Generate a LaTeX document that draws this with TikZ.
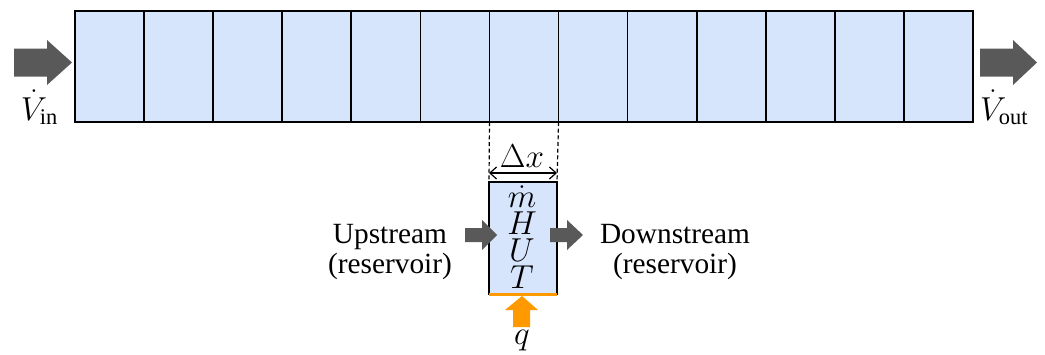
\documentclass[tikz,border=0pt]{standalone}
\usepackage{fontspec}
\setmainfont{Liberation Serif}
\usetikzlibrary{arrows.meta}
\definecolor{cellfill}{RGB}{214,228,252}
\definecolor{arrowgray}{RGB}{89,89,89}
\definecolor{heatorange}{RGB}{255,153,0}
\begin{document}
\begin{tikzpicture}[x=0.75pt,y=-0.75pt,
  font=\fontsize{22}{22.5}\selectfont,
  cell/.style={draw=black, line width=1.3pt, fill=cellfill, minimum width=51.81pt,
    minimum height=83.25pt, inner sep=0pt, outer sep=0pt, anchor=north west},
  ctrlvol/.style={draw=black, line width=1.3pt, fill=cellfill, minimum width=51pt,
    minimum height=84pt, inner sep=0pt, outer sep=0pt, anchor=north west},
  blockarrow/.style={fill=arrowgray},
  heatarrow/.style={fill=heatorange},
  lbl/.style={inner sep=0pt, outer sep=0pt},
  mlbl/.style={inner sep=0pt, outer sep=0pt, font=\fontsize{24}{20.25}\selectfont},
  guide/.style={draw=black, line width=0.9pt, dash pattern=on 3pt off 2pt},
  dim/.style={draw=black, line width=0.9pt, {Straight Barb[length=5pt,width=9pt]}-{Straight Barb[length=5pt,width=9pt]}}]
\useasboundingbox (0,0) rectangle (1045,354);
% pipe cells
\foreach \i in {0,...,12} {
  \node[cell] (c\i) at ({75+\i*69.077},11) {};
}
% inlet / outlet arrows
\fill[blockarrow] (14,48.5) -- (47,48.5) -- (47,40) -- (72,62.5) -- (47,85) -- (47,76.5) -- (14,76.5) -- cycle;
\fill[blockarrow] (980,48.5) -- (1013,48.5) -- (1013,40) -- (1037,62.5) -- (1013,85) -- (1013,76.5) -- (980,76.5) -- cycle;
\node[mlbl, anchor=base west] (vin) at (21,120) {$\dot V_{\mathrm{in}}$};
\node[mlbl, anchor=base west] (vout) at (980,120) {$\dot V_{\mathrm{out}}$};
% control volume
\node[ctrlvol] (box) at (489,182) {};
\draw[guide] (c6.south west) -- (box.north west);
\draw[guide] (c6.south east) -- (box.north east);
\draw[dim] ([yshift=6.75pt]box.north west) -- ([yshift=6.75pt]box.north east);
\node[mlbl, anchor=base] (dx) at (522,167) {$\Delta x$};
\node[mlbl, align=center, anchor=base] (state) at (522,288) {$\dot m$\\$H$\\$U$\\$T$};
% upstream / downstream arrows
\fill[blockarrow] (465,228) -- (482,228) -- (482,220) -- (497,235) -- (482,250) -- (482,242) -- (465,242) -- cycle;
\fill[blockarrow] (550,228) -- (567,228) -- (567,220) -- (583,235) -- (567,250) -- (567,242) -- (550,242) -- cycle;
\node[lbl, align=center] (up) at (390,252) {Upstream\\(reservoir)};
\node[lbl, align=center] (down) at (675,252) {Downstream\\(reservoir)};
% heat input
\draw[heatorange, line width=2.25pt] (box.south west) -- (box.south east);
\fill[heatarrow] (522,296) -- (538,310) -- (530,310) -- (530,327) -- (513,327) -- (513,310) -- (505,310) -- cycle;
\node[mlbl, anchor=base] (q) at (522,344) {$q$};
\end{tikzpicture}
\end{document}
